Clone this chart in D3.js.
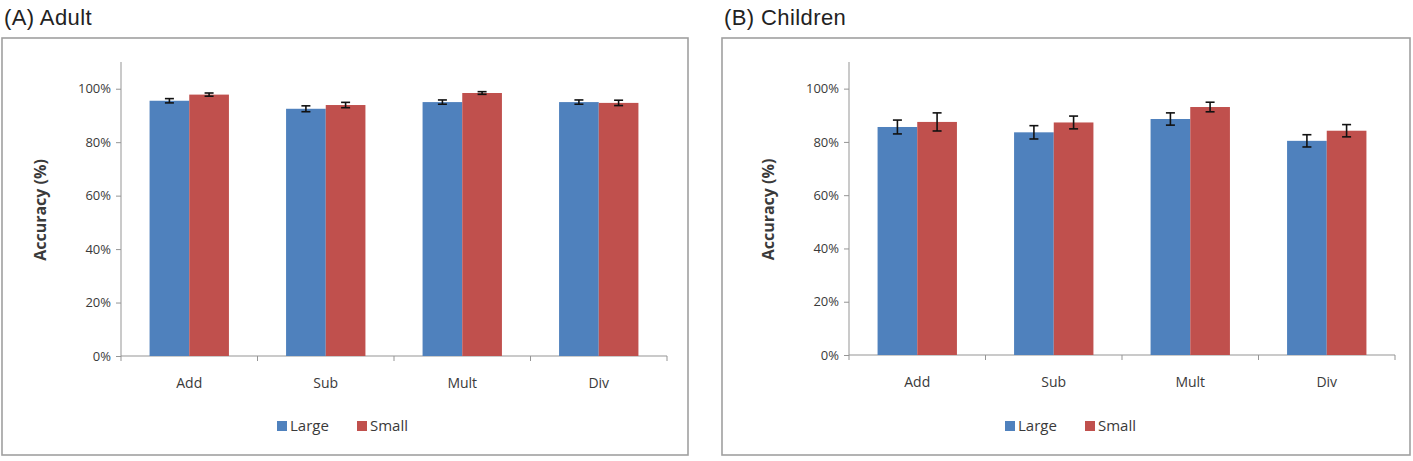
<!DOCTYPE html>
<html><head><meta charset="utf-8">
<script src="https://cdn.jsdelivr.net/npm/d3@7"></script>
<style>body{margin:0;background:#fff;}svg{display:block;}</style>
</head><body>
<svg id="c" width="1413" height="461"></svg>
<script>
const categories = ["Add", "Sub", "Mult", "Div"];
const seriesNames = ["Large", "Small"];
const yTicks = [0, 20, 40, 60, 80, 100];
const adultLarge = [95.5, 92.5, 95.0, 95.0];
const adultSmall = [97.8, 93.9, 98.4, 94.7];
const adultLargeErr = [0.8, 1.1, 0.8, 0.8];
const adultSmallErr = [0.6, 1.0, 0.5, 1.0];
const childLarge = [85.6, 83.6, 88.6, 80.4];
const childSmall = [87.5, 87.3, 93.1, 84.2];
const childLargeErr = [2.6, 2.5, 2.3, 2.3];
const childSmallErr = [3.4, 2.4, 1.8, 2.3];
const titles = ["(A) Adult", "(B) Children"];
const colors = ["#4F81BD", "#C0504D"];

const svg = d3.select("#c");
const FONT = "Open Sans, sans-serif";

function panel(cfg, title, large, small, largeErr, smallErr) {
  const g = svg.append("g");
  g.append("text").attr("x", cfg.fx + 2).attr("y", 25).text(title)
    .attr("font-family", "Liberation Sans, Arial, sans-serif").attr("font-size", 22)
    .attr("letter-spacing", 0.4).attr("fill", "#222");
  g.append("rect").attr("x", cfg.fx).attr("y", 38).attr("width", cfg.fw).attr("height", 417)
    .attr("fill", "none").attr("stroke", "#a0a0a0").attr("stroke-width", 1.6);

  const left = cfg.left, right = cfg.left + 546, top = 62, bottom = cfg.bottom;
  const y = d3.scaleLinear().domain([0, 110]).range([bottom, top]);
  const x = d3.scaleBand().domain(categories).range([left, right]);
  const xs = d3.scaleBand().domain(seriesNames).range([0, x.bandwidth()]).paddingInner(0).paddingOuter(0.72);

  // y axis
  const ya = g.append("g").attr("transform", `translate(${left},0)`)
    .call(d3.axisLeft(y).tickValues(yTicks).tickFormat(d => d + "%").tickSizeOuter(0).tickSize(5).tickPadding(5));
  ya.select(".domain").attr("stroke", "#959595").attr("d", `M0,${top}V${bottom}`);
  ya.selectAll(".tick line").attr("stroke", "#959595");
  ya.selectAll(".tick text").attr("font-family", FONT).attr("font-size", 13).attr("fill", "#3a3a3a");

  // x axis
  const xa = g.append("g").attr("transform", `translate(0,${bottom})`);
  xa.append("line").attr("x1", left).attr("x2", right).attr("stroke", "#959595");
  const bounds = categories.map(c => x(c)).concat([right]);
  xa.selectAll("line.tk").data(bounds).join("line").attr("class", "tk")
    .attr("x1", d => d).attr("x2", d => d).attr("y1", 0).attr("y2", 5).attr("stroke", "#959595");
  xa.selectAll("text").data(categories).join("text")
    .attr("x", d => x(d) + x.bandwidth() / 2).attr("y", 32).attr("text-anchor", "middle")
    .attr("font-family", FONT).attr("font-size", 14).attr("fill", "#3a3a3a").text(d => d);

  // axis title
  g.append("text").attr("transform", `translate(${left - 75},${(top + bottom) / 2 + 1}) rotate(-90)`)
    .attr("text-anchor", "middle").attr("font-family", FONT).attr("font-weight", "bold")
    .attr("font-size", 16).attr("fill", "#3a3a3a").text("Accuracy (%)");

  const series = [[large, largeErr], [small, smallErr]];
  series.forEach(([vals, errs], si) => {
    const s = seriesNames[si];
    g.append("g").selectAll("rect").data(categories).join("rect")
      .attr("x", c => x(c) + xs(s)).attr("width", xs.bandwidth())
      .attr("y", (c, i) => y(vals[i])).attr("height", (c, i) => bottom - y(vals[i]))
      .attr("fill", colors[si]);
    const eg = g.append("g").attr("stroke", "#111").attr("stroke-width", 1.6);
    categories.forEach((c, i) => {
      const cx = x(c) + xs(s) + xs.bandwidth() / 2;
      const y1 = y(vals[i] + errs[i]), y2 = y(vals[i] - errs[i]);
      eg.append("line").attr("x1", cx).attr("x2", cx).attr("y1", y1).attr("y2", y2);
      eg.append("line").attr("x1", cx - 4.5).attr("x2", cx + 4.5).attr("y1", y1).attr("y2", y1);
      eg.append("line").attr("x1", cx - 4.5).attr("x2", cx + 4.5).attr("y1", y2).attr("y2", y2);
    });
  });

  // legend
  const lg = g.append("g").attr("transform", `translate(${left + 156},426)`);
  seriesNames.forEach((s, i) => {
    const lx = i * 80;
    lg.append("rect").attr("x", lx).attr("y", -5).attr("width", 10).attr("height", 10).attr("fill", colors[i]);
    lg.append("text").attr("x", lx + 13).attr("y", 5).text(s)
      .attr("font-family", FONT).attr("font-size", 15).attr("fill", "#3a3a3a");
  });
}

panel({fx: 2, fw: 686, left: 121, bottom: 356}, titles[0], adultLarge, adultSmall, adultLargeErr, adultSmallErr);
panel({fx: 722, fw: 688, left: 849, bottom: 355}, titles[1], childLarge, childSmall, childLargeErr, childSmallErr);
</script>
</body></html>
